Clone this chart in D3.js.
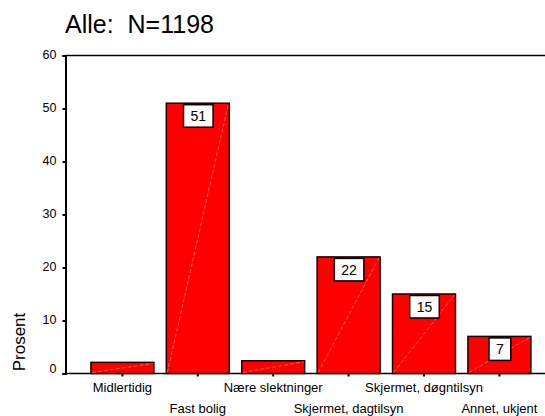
<!DOCTYPE html>
<html>
<head>
<meta charset="utf-8">
<script src="https://cdn.jsdelivr.net/npm/d3@7"></script>
<style>
  html, body { margin: 0; padding: 0; background: #fff; }
  svg { display: block; font-family: "Liberation Sans", Arial, sans-serif; }
  text { white-space: pre; }
</style>
</head>
<body>
<svg id="chart" width="545" height="416"></svg>
<script>
// Bostedsfordeling, prosent av alle (N=1198)
const categories = ["Midlertidig", "Fast bolig", "Nære slektninger", "Skjermet, dagtilsyn", "Skjermet, døgntilsyn", "Annet, ukjent"];
const values = [2.1, 51, 2.4, 22, 15, 7];
const valueLabels = [null, "51", null, "22", "15", "7"];
const yTicks = [0, 10, 20, 30, 40, 50, 60];
const title = "Alle:  N=1198";
const yTitle = "Prosent";

const svg = d3.select("#chart");

const axisLeftX = 65.5;
const plotRight = 545;
const y = d3.scaleLinear().domain([0, 60]).range([373.5, 55.5]);
const x = d3.scaleBand()
  .domain(categories)
  .range([84.7, 537.1])
  .paddingInner(0.165)
  .paddingOuter(0.0825);

// Title
svg.append("text")
  .attr("x", 65)
  .attr("y", 33)
  .attr("font-size", 25)
  .attr("fill", "#000")
  .text(title);

// Frame: top line and baseline
svg.append("line")
  .attr("x1", axisLeftX).attr("x2", plotRight)
  .attr("y1", y(60)).attr("y2", y(60))
  .attr("stroke", "#000").attr("stroke-width", 1.5);
svg.append("line")
  .attr("x1", axisLeftX).attr("x2", plotRight)
  .attr("y1", y(0)).attr("y2", y(0))
  .attr("stroke", "#000").attr("stroke-width", 1.5);

// Bars
const bars = svg.append("g");
bars.selectAll("rect")
  .data(values)
  .join("rect")
  .attr("x", (d, i) => x(categories[i]))
  .attr("y", d => y(d))
  .attr("width", x.bandwidth())
  .attr("height", d => y(0) - y(d))
  .attr("fill", "#ff0000")
  .attr("stroke", "#1a0000")
  .attr("stroke-width", 1.5);

// faint diagonal highlight across each bar
bars.selectAll("line")
  .data(values)
  .join("line")
  .attr("x1", (d, i) => x(categories[i]) + 1)
  .attr("y1", y(0) - 1)
  .attr("x2", (d, i) => x(categories[i]) + x.bandwidth() - 1)
  .attr("y2", d => y(d) + 1)
  .attr("stroke", "#ffb0b0")
  .attr("stroke-width", 0.7)
  .attr("stroke-dasharray", "4,2")
  .attr("opacity", 0.8);

// Y axis
const yAxis = d3.axisLeft(y)
  .tickValues(yTicks)
  .tickSize(3)
  .tickPadding(6)
  .tickFormat(d3.format("d"));
const gy = svg.append("g")
  .attr("transform", `translate(${axisLeftX},0)`)
  .call(yAxis);
gy.attr("font-size", null).attr("font-family", null);
gy.select(".domain").attr("stroke", "#000").attr("stroke-width", 2);
gy.selectAll(".tick line").attr("stroke", "#000").attr("stroke-width", 2);
gy.selectAll(".tick text")
  .attr("font-size", 12.5)
  .attr("fill", "#000")
  .attr("dy", d => d === 0 ? "-0.1em" : "0.25em");

// X axis tick marks at bar centres
const xAxis = d3.axisBottom(x).tickSize(3).tickFormat("");
const gx = svg.append("g")
  .attr("transform", `translate(0,${y(0)})`)
  .call(xAxis);
gx.select(".domain").remove();
gx.selectAll(".tick line").attr("stroke", "#000").attr("stroke-width", 2);

// Category labels, staggered on two rows
svg.append("g")
  .selectAll("text")
  .data(categories)
  .join("text")
  .attr("x", d => x(d) + x.bandwidth() / 2)
  .attr("y", (d, i) => i % 2 === 0 ? 392 : 413)
  .attr("text-anchor", "middle")
  .attr("font-size", 13)
  .attr("fill", "#000")
  .text(d => d);

// Y title
svg.append("text")
  .attr("transform", "translate(25,342) rotate(-90)")
  .attr("text-anchor", "middle")
  .attr("font-size", 17)
  .attr("fill", "#000")
  .text(yTitle);

// Value labels in boxes just below the bar tops
const labelG = svg.append("g");
values.forEach((v, i) => {
  const lab = valueLabels[i];
  if (lab === null) return;
  const cx = x(categories[i]) + x.bandwidth() / 2 + 0.5;
  const top = y(v) + 1.5;
  const t = labelG.append("text")
    .attr("x", cx)
    .attr("y", top + 16.5)
    .attr("text-anchor", "middle")
    .attr("font-size", 14)
    .attr("fill", "#000")
    .text(lab);
  const w = t.node().getComputedTextLength() + 14;
  labelG.insert("rect", "text")
    .attr("x", cx - w / 2)
    .attr("y", top)
    .attr("width", w)
    .attr("height", 22.5)
    .attr("fill", "#fff")
    .attr("stroke", "#000")
    .attr("stroke-width", 1.5);
  labelG.insert("line", "text")
    .attr("x1", cx - w / 2 + 1).attr("y1", top + 21.5)
    .attr("x2", cx + w / 2 - 1).attr("y2", top + 1)
    .attr("stroke", "#ffb0b0")
    .attr("stroke-width", 0.6)
    .attr("opacity", 0.7);
});
</script>
</body>
</html>
